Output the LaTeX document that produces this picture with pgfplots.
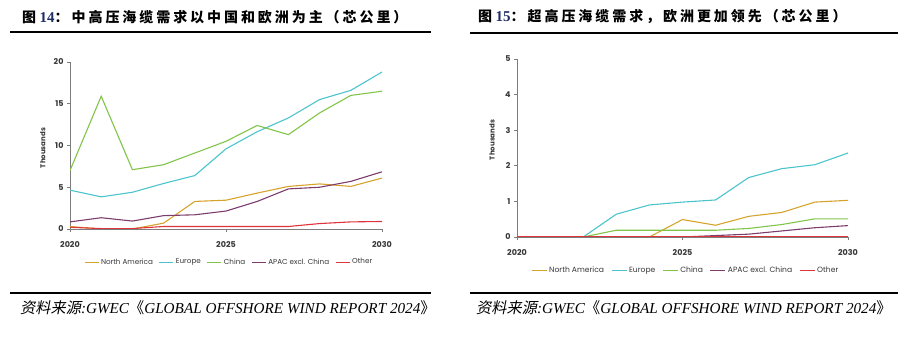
\documentclass[border=0pt]{standalone}
\usepackage{fontspec}
\usepackage{pgfplots}
\pgfplotsset{compat=1.18}
\setmainfont{Liberation Serif}
\setsansfont{Poppins}
\newfontfamily\cjk{Noto Sans CJK SC}
\newfontfamily\cjkt{Noto Sans CJK SC}[LetterSpace=21]
\newfontfamily\cjkslant{Noto Sans CJK SC}[FakeSlant=0.2]
\definecolor{cNA}{RGB}{214,163,45}
\definecolor{cEU}{RGB}{76,196,204}
\definecolor{cCN}{RGB}{130,196,72}
\definecolor{cAP}{RGB}{125,60,110}
\definecolor{cOT}{RGB}{222,52,60}
\definecolor{axgray}{RGB}{125,125,125}
\definecolor{txt}{RGB}{55,55,55}
\definecolor{numblue}{RGB}{30,45,100}
\pgfplotsset{myax/.style={
  scale only axis,
  axis x line*=bottom, axis y line*=left,
  axis line style={axgray, line width=0.8pt},
  tick style={axgray, line width=0.8pt},
  tick align=outside, major tick length=3pt,
  xmin=2020, xmax=2030, ymin=0,
  xtick={2020,2025,2030},
  /pgf/number format/1000 sep={},
  /pgf/number format/assume math mode=true,
  tick label style={font=\sffamily\bfseries\fontsize{8}{9}\selectfont, text=txt},
  x tick label style={yshift=-6pt},
  ylabel={Thousands},
  ylabel style={font=\sffamily\bfseries\fontsize{7}{8}\selectfont, text=txt},
  legend columns=5,
  legend style={draw=none, fill=none, font=\sffamily\fontsize{7.6}{9}\selectfont, text=txt,
    /tikz/every even column/.append style={column sep=5pt}},
  legend image code/.code={\draw[##1, line width=1pt] (0pt,0pt) -- (15pt,0pt);},
  every axis plot/.append style={line width=1.1pt, mark=none},
}}
\newcommand\src{{\cjkslant 资料来源}{\itshape :GWEC}{\cjk 《}{\itshape GLOBAL OFFSHORE WIND REPORT 2024}{\cjk 》}}
\begin{document}
\begin{tikzpicture}
\useasboundingbox (0pt,0pt) rectangle (898pt,339pt);
% titles
\node[anchor=west,inner sep=0] at (22pt,322pt) {\fontsize{14}{16}\selectfont\bfseries{\cjkt 图} {\fontsize{15}{16}\selectfont\color{numblue}14}{\cjkt ：中高压海缆需求以中国和欧洲为主（芯公里）}};
\node[anchor=west,inner sep=0] at (478pt,322pt) {\fontsize{14}{16}\selectfont\bfseries{\cjkt 图} {\fontsize{15}{16}\selectfont\color{numblue}15}{\cjkt ：超高压海缆需求，欧洲更加领先（芯公里）}};
\draw[line width=2pt] (10pt,306.5pt) -- (431pt,306.5pt);
\draw[line width=2pt] (470pt,306pt) -- (898pt,306pt);
\draw[line width=2pt] (10pt,46pt) -- (431pt,46pt);
\draw[line width=2pt] (470pt,46pt) -- (898pt,46pt);
\node[anchor=west,inner sep=0] at (20pt,31pt) {\fontsize{15.2}{17}\selectfont\src};
\node[anchor=west,inner sep=0] at (476pt,31pt) {\fontsize{15.2}{17}\selectfont\src};
% left chart
\begin{axis}[myax, at={(70pt,110pt)}, anchor=south west, width=312pt, height=167pt,
  ymax=20, ytick={0,5,10,15,20},
  ylabel style={at={(axis description cs:-0.087,0.485)}, anchor=center},
  legend style={at={(0.51,-0.198)}, anchor=center, font=\sffamily\fontsize{7.2}{9}\selectfont,
    /tikz/every even column/.append style={column sep=4pt}},
  legend image code/.code={\draw[#1, line width=1pt] (0pt,0pt) -- (14pt,0pt);}]
\addplot[cNA] coordinates {(2020,0.3)(2021,0)(2022,0)(2023,0.7)(2024,3.3)(2025,3.45)(2026,4.3)(2027,5.1)(2028,5.4)(2029,5.1)(2030,6.1)};
\addplot[cEU] coordinates {(2020,4.65)(2021,3.85)(2022,4.4)(2023,5.45)(2024,6.4)(2025,9.6)(2026,11.65)(2027,13.3)(2028,15.5)(2029,16.6)(2030,18.8)};
\addplot[cCN] coordinates {(2020,7.0)(2021,15.9)(2022,7.1)(2023,7.7)(2024,9.1)(2025,10.5)(2026,12.4)(2027,11.3)(2028,13.9)(2029,16.0)(2030,16.5)};
\addplot[cAP] coordinates {(2020,0.85)(2021,1.35)(2022,0.95)(2023,1.6)(2024,1.7)(2025,2.15)(2026,3.3)(2027,4.8)(2028,5.0)(2029,5.7)(2030,6.85)};
\addplot[cOT] coordinates {(2020,0.2)(2021,0.05)(2022,0.05)(2023,0.3)(2024,0.3)(2025,0.3)(2026,0.3)(2027,0.3)(2028,0.65)(2029,0.85)(2030,0.9)};
\legend{North America, Europe, China, APAC excl. China, Other}
\end{axis}
% right chart
\begin{axis}[myax, at={(517pt,102pt)}, anchor=south west, width=331pt, height=178pt,
  ymax=5, ytick={0,1,2,3,4,5},
  ylabel style={at={(axis description cs:-0.0755,0.545)}, anchor=center},
  legend style={at={(0.51,-0.19)}, anchor=center}]
\addplot[cNA] coordinates {(2020,0)(2021,0)(2022,0)(2023,0)(2024,0)(2025,0.49)(2026,0.33)(2027,0.58)(2028,0.69)(2029,0.98)(2030,1.03)};
\addplot[cEU] coordinates {(2020,0)(2021,0)(2022,0)(2023,0.64)(2024,0.9)(2025,0.98)(2026,1.04)(2027,1.67)(2028,1.92)(2029,2.03)(2030,2.36)};
\addplot[cCN] coordinates {(2020,0)(2021,0)(2022,0)(2023,0.19)(2024,0.19)(2025,0.19)(2026,0.19)(2027,0.24)(2028,0.35)(2029,0.51)(2030,0.51)};
\addplot[cAP] coordinates {(2020,0)(2021,0)(2022,0)(2023,0)(2024,0)(2025,0)(2026,0.04)(2027,0.08)(2028,0.17)(2029,0.26)(2030,0.32)};
\addplot[cOT] coordinates {(2020,0)(2021,0)(2022,0)(2023,0)(2024,0)(2025,0)(2026,0)(2027,0)(2028,0)(2029,0)(2030,0)};
\legend{North America, Europe, China, APAC excl. China, Other}
\end{axis}
\end{tikzpicture}
\end{document}
